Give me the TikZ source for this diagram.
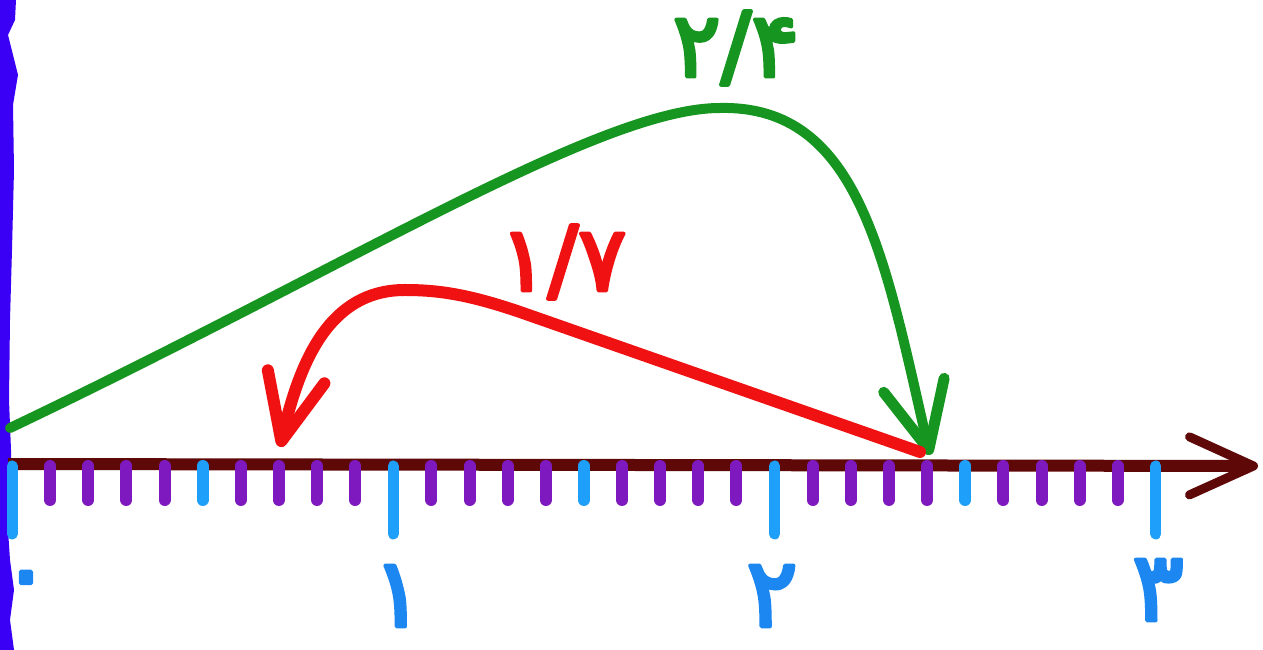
\documentclass[tikz,border=0pt]{standalone}
\usepackage{fontspec}
\usetikzlibrary{arrows.meta}
\newfontfamily\fa[FakeBold=4]{DejaVu Sans}
\definecolor{bandblue}{RGB}{58,0,245}
\definecolor{tickblue}{RGB}{30,160,250}
\definecolor{tickpurple}{RGB}{125,25,190}
\definecolor{axisbrown}{RGB}{95,8,8}
\definecolor{arcgreen}{RGB}{22,150,32}
\definecolor{arcred}{RGB}{240,18,18}
\definecolor{labelblue}{RGB}{28,135,240}
\begin{document}
\begin{tikzpicture}[x=1pt,y=1pt,line cap=round,line join=round,
  minortick/.style={draw=tickpurple,line width=12pt},
  halftick/.style={draw=tickblue,line width=12pt},
  majortick/.style={draw=tickblue,line width=11pt},
  axisline/.style={draw=axisbrown,line width=12pt,line cap=butt,
    -{Straight Barb[length=64pt,width=58pt,line width=9pt,round]}},
  greenarc/.style={draw=arcgreen,line width=10pt,
    -{Straight Barb[length=66pt,width=62pt,line width=11pt,round]}},
  redarc/.style={draw=arcred,line width=12pt,
    -{Straight Barb[length=66pt,width=58pt,line width=12pt,round]}},
  axislabel/.style={text=labelblue,inner sep=0pt,
    font=\fa\fontsize{96}{96}\selectfont},
  arclabel/.style={inner sep=0pt,font=\fa\fontsize{90}{90}\selectfont}]
\useasboundingbox (0,0) rectangle (1263,650);
\fill[white] (0,0) rectangle (1263,650);
% left band
\fill[bandblue] (0,650) -- (16,650) -- (15,630) -- (8,615) -- (18,575) -- (13,545)
  -- (14,480) -- (12,400) -- (10,330) -- (9,250) -- (11,200) -- (12,150)
  -- (8,120) -- (10,90) -- (14,60) -- (10,30) -- (14,0) -- (0,0) -- cycle;
% axis
\coordinate (axstart) at (8,186);
\coordinate (axend) at (1258,184);
\draw[axisline] (axstart) -- (axend);
% ticks
\foreach \i in {1,2,3,4,6,7,8,9,11,12,13,14,16,17,18,19,21,22,23,24,26,27,28,29}
  \draw[minortick] ({12+38.13*\i},184) -- ({12+38.13*\i},150);
\foreach \i in {5,15,25}
  \draw[halftick] ({12+38.13*\i},184) -- ({12+38.13*\i},150);
\foreach \i in {0,10,20,30}
  \draw[majortick] ({12+38.13*\i},184) -- ({12+38.13*\i},116);
% axis labels
\node[axislabel,anchor=west] (l0) at (0,62) {۰};
\node[axislabel] (l1) at (398,54) {۱};
\node[axislabel] (l2) at (772,54) {۲};
\node[axislabel] (l3) at (1158,60) {۳};
% green arc 0 -> 2.4
\coordinate (g0) at (10,222);
\coordinate (gpk) at (720,542);
\coordinate (g24) at (930,195);
\draw[greenarc] (g0) .. controls (350,384) and (600,542) .. (gpk)
  .. controls (860,545) and (885,390) .. (g24);
\node[arclabel,text=arcgreen] (lg) at (736,602) {۲/۴};
% red arc 2.4 -> 1.7
\coordinate (r24) at (920,198);
\coordinate (rbend) at (520,338);
\coordinate (rpk) at (405,360);
\coordinate (r17) at (280,203);
\draw[redarc] (r24) -- (rbend) .. controls (470,355) and (440,360) .. (rpk)
  .. controls (330,360) and (300,290) .. (r17);
\node[arclabel,text=arcred] (lr) at (563,388) {۱/۷};
\end{tikzpicture}
\end{document}
